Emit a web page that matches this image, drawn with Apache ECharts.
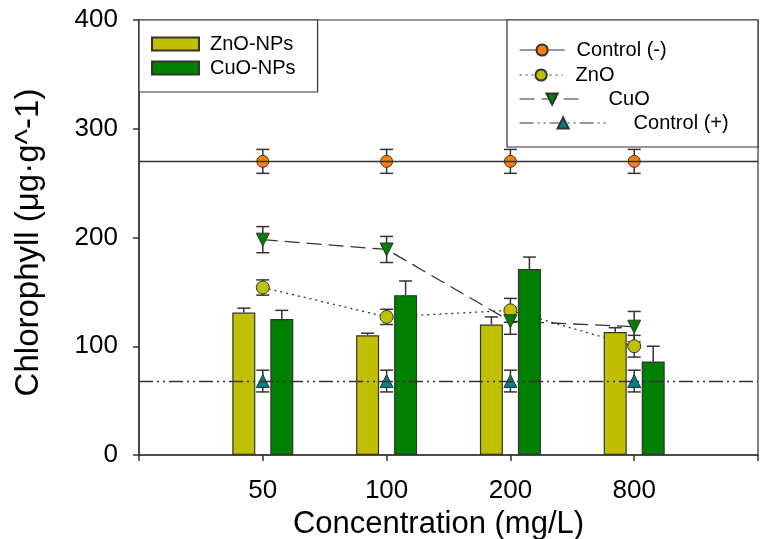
<!DOCTYPE html>
<html>
<head>
<meta charset="utf-8">
<script src="https://cdn.jsdelivr.net/npm/echarts@6/dist/echarts.min.js"></script>
<style>
html, body { margin: 0; padding: 0; background: #fff; }
#chart { width: 760px; height: 539px; }
</style>
</head>
<body>
<div id="chart"></div>
<script>
// concentrations (mg/L)
const categories = ['50', '100', '200', '800']

// bars (mean + upper error)
const znoBar = [131, 110, 120, 113]
const znoBarErr = [4, 2, 7, 4]
const cuoBar = [125, 147, 171, 86]
const cuoBarErr = [8, 13, 11, 14]

// markers (mean +/- error)
const controlNeg = [270, 270, 270, 270]
const controlNegErr = [11, 11, 11, 11]
const znoLine = [154, 127, 133, 100]
const znoLineErr = [7, 7, 11, 10]
const cuoLine = [198, 189, 123, 118]
const cuoLineErr = [12, 12, 12, 14]
const controlPos = [68, 68, 68, 68]
const controlPosErr = [10, 10, 10, 10]

const LINE = '#333333'
const BAR_W = 23
const BAR_GAP = 15
const FONT = 'Liberation Sans'

// empty slot at each end of the axis
const axisData = ['', ...categories, '']
const pad = (arr) => [null, ...arr, null]

function errSeries(vals, errs, offset, both, z) {
  return {
    type: 'custom',
    silent: true,
    z: z,
    data: vals.map((v, i) => [i + 1, v, errs[i]]),
    renderItem(params, api) {
      const idx = api.value(0)
      const v = api.value(1)
      const e = api.value(2)
      const x = api.coord([idx, v])[0] + offset
      const top = api.coord([idx, v + e])[1]
      const bot = both ? api.coord([idx, v - e])[1] : api.coord([idx, v])[1]
      const hw = 6.5
      const style = { stroke: LINE, lineWidth: 1.5 }
      const children = [
        { type: 'line', shape: { x1: x, y1: top, x2: x, y2: bot }, style },
        { type: 'line', shape: { x1: x - hw, y1: top, x2: x + hw, y2: top }, style }
      ]
      if (both) {
        children.push({ type: 'line', shape: { x1: x - hw, y1: bot, x2: x + hw, y2: bot }, style })
      }
      return { type: 'group', children }
    }
  }
}

const dashCuO = [15, 7]
const dotZnO = [2, 4]
const dashDotDot = [14, 4, 2, 4, 2, 4]

const legendText = { fontFamily: FONT, fontSize: 20, color: '#000', lineHeight: 20 }

function lineLegend(name, top, width, gap, lineType) {
  return {
    data: [name],
    left: 519,
    top: top,
    padding: 0,
    itemWidth: width,
    itemHeight: 14,
    selectedMode: false,
    lineStyle: { color: LINE, width: 1.2, type: lineType, opacity: 1 },
    textStyle: Object.assign({ padding: [0, 0, 0, gap - 5] }, legendText)
  }
}

const chart = echarts.init(document.getElementById('chart'))
chart.setOption({
  animation: false,
  grid: {
    left: 139, right: 2, top: 20, bottom: 84,
    outerBoundsMode: 'none',
    show: true, borderColor: LINE, borderWidth: 1.2
  },
  legend: [
    {
      data: ['ZnO-NPs', 'CuO-NPs'],
      orient: 'vertical',
      left: 139,
      top: 20,
      padding: [14, 22, 14, 12],
      itemGap: 4,
      itemWidth: 47,
      itemHeight: 13,
      icon: 'rect',
      selectedMode: false,
      borderColor: LINE,
      borderWidth: 1.2,
      backgroundColor: '#fff',
      textStyle: Object.assign({ padding: [0, 0, 0, 6] }, legendText)
    },
    lineLegend('Control (-)', 40, 45, 12, 'solid'),
    lineLegend('ZnO', 65, 43, 13, dotZnO),
    lineLegend('CuO', 89, 65, 24, dashCuO),
    lineLegend('Control (+)', 113, 87, 27, dashDotDot)
  ],
  graphic: [
    {
      type: 'rect',
      z: 0,
      shape: { x: 507, y: 20, width: 251, height: 127 },
      style: { fill: '#fff', stroke: LINE, lineWidth: 1.2 }
    }
  ],
  xAxis: {
    type: 'category',
    data: axisData,
    boundaryGap: false,
    name: 'Concentration (mg/L)',
    nameLocation: 'middle',
    nameGap: 48,
    nameTextStyle: { fontFamily: FONT, fontSize: 31, color: '#000', padding: [0, 20, 0, 0] },
    axisLine: { lineStyle: { color: LINE, width: 1.5 } },
    axisTick: { show: true, length: 6, alignWithLabel: true, lineStyle: { color: LINE, width: 1.5 } },
    axisLabel: { fontFamily: FONT, fontSize: 26, color: '#000', margin: 23, interval: 0 },
    splitLine: { show: false }
  },
  yAxis: {
    type: 'value',
    min: 0,
    max: 400,
    interval: 100,
    name: 'Chlorophyll (μg·g^-1)',
    nameLocation: 'middle',
    nameGap: 94,
    nameTextStyle: { fontFamily: FONT, fontSize: 33, color: '#000', padding: [0, 10, 0, 0] },
    axisLine: { show: true, lineStyle: { color: LINE, width: 1.5 } },
    axisTick: { show: true, length: 6, lineStyle: { color: LINE, width: 1.5 } },
    axisLabel: { fontFamily: FONT, fontSize: 26, color: '#000', margin: 21 },
    splitLine: { show: false }
  },
  series: [
    {
      name: 'ZnO-NPs',
      type: 'bar',
      z: 3,
      barWidth: BAR_W,
      barGap: (BAR_GAP / BAR_W * 100) + '%',
      data: pad(znoBar),
      itemStyle: { color: '#c0c000', borderColor: LINE, borderWidth: 1.2 }
    },
    {
      name: 'CuO-NPs',
      type: 'bar',
      z: 3,
      barWidth: BAR_W,
      data: pad(cuoBar),
      itemStyle: { color: '#008000', borderColor: LINE, borderWidth: 1.2 }
    },
    {
      name: 'Control (-)',
      type: 'line',
      z: 2,
      data: pad(controlNeg),
      symbol: 'circle',
      symbolSize: 12,
      itemStyle: { color: '#ff8000', borderColor: LINE, borderWidth: 1 },
      lineStyle: { color: LINE, width: 1, opacity: 0 },
      markLine: {
        silent: true,
        symbol: 'none',
        label: { show: false },
        lineStyle: { color: LINE, width: 1.3, type: 'solid' },
        data: [{ yAxis: controlNeg[0] }]
      }
    },
    {
      name: 'ZnO',
      type: 'line',
      z: 2,
      data: pad(znoLine),
      symbol: 'circle',
      symbolSize: 13,
      itemStyle: { color: '#c0c000', borderColor: LINE, borderWidth: 1 },
      lineStyle: { color: LINE, width: 1.3, type: dotZnO }
    },
    {
      name: 'CuO',
      type: 'line',
      z: 2,
      data: pad(cuoLine),
      symbol: 'triangle',
      symbolRotate: 180,
      symbolSize: 13,
      itemStyle: { color: '#008000', borderColor: LINE, borderWidth: 1 },
      lineStyle: { color: LINE, width: 1.3, type: dashCuO }
    },
    {
      name: 'Control (+)',
      type: 'line',
      z: 2,
      data: pad(controlPos),
      symbol: 'triangle',
      symbolSize: 13,
      itemStyle: { color: '#008080', borderColor: LINE, borderWidth: 1 },
      lineStyle: { color: LINE, width: 1, opacity: 0 },
      markLine: {
        silent: true,
        symbol: 'none',
        label: { show: false },
        lineStyle: { color: LINE, width: 1.3, type: dashDotDot },
        data: [{ yAxis: controlPos[0] }]
      }
    },
    errSeries(znoBar, znoBarErr, -(BAR_W + BAR_GAP) / 2, false, 4),
    errSeries(cuoBar, cuoBarErr, (BAR_W + BAR_GAP) / 2, false, 4),
    errSeries(controlNeg, controlNegErr, 0, true, 1),
    errSeries(znoLine, znoLineErr, 0, true, 1),
    errSeries(cuoLine, cuoLineErr, 0, true, 1),
    errSeries(controlPos, controlPosErr, 0, true, 1)
  ]
})
</script>
</body>
</html>
